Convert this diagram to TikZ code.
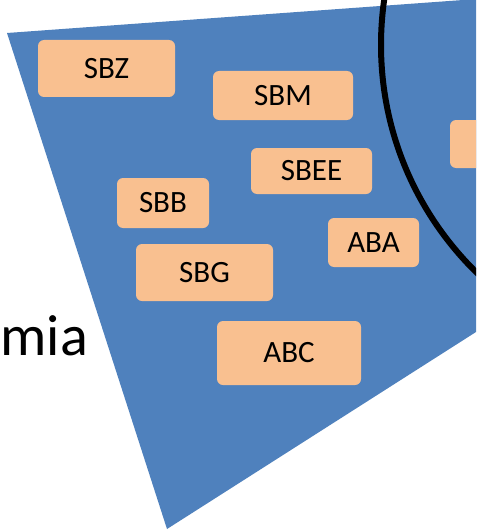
\documentclass[tikz,border=0pt]{standalone}
\usepackage{fontspec}
\setmainfont{Carlito}
\definecolor{pblue}{HTML}{4F81BD}
\definecolor{porange}{HTML}{F9C090}
\begin{document}
\begin{tikzpicture}[x=1pt,y=-1pt,
  box/.style={fill=porange,draw=none,rounded corners=6pt,inner sep=0pt,font=\fontsize{31}{31}\selectfont},
  big/.style={inner sep=0pt,font=\fontsize{58}{58}\selectfont}]
\clip (0,0) rectangle (476,532);
\fill[white] (0,0) rectangle (476,532);
\fill[pblue] (7,33) -- (463,0) -- (476,0) -- (476,332) -- (167,529) -- cycle;
\draw[line width=6pt] (699.7,45) circle[radius=318.7pt];
\node[box,minimum width=137pt,minimum height=57pt] (sbz) at (106.5,68.5) {SBZ};
\node[box,minimum width=140pt,minimum height=49pt] (sbm) at (283,95.5) {SBM};
\node[box,minimum width=121pt,minimum height=46pt] (sbee) at (311.5,171) {SBEE};
\node[box,minimum width=92pt,minimum height=50pt] (sbb) at (163,203) {SBB};
\node[box,minimum width=91pt,minimum height=49pt] (aba) at (373.5,242.5) {ABA};
\node[box,minimum width=137pt,minimum height=57pt] (sbg) at (204.5,272.5) {SBG};
\node[box,minimum width=144pt,minimum height=64pt] (abc) at (289,353) {ABC};
\node[box,minimum width=50pt,minimum height=48pt] (part) at (475,144) {};
\node[big,anchor=base west] (mia) at (0.3,355) {mia};
\end{tikzpicture}
\end{document}
